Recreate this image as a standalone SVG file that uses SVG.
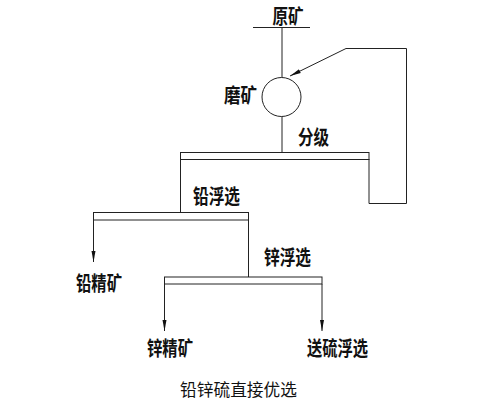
<svg xmlns="http://www.w3.org/2000/svg" width="499" height="405" viewBox="0 0 499 405">
<defs>
<style>
.ln{stroke:#222;stroke-width:1;fill:none}
.lbl{font-family:"Noto Sans CJK SC","Liberation Sans",sans-serif;font-size:20px;font-weight:bold;fill:#111}
.cap{font-family:"Noto Sans CJK SC","Liberation Serif",serif;font-size:16.5px;fill:#111}
</style>
<marker id="ah" markerWidth="12" markerHeight="6" refX="11" refY="3" orient="auto" markerUnits="userSpaceOnUse">
<path d="M0,1 L11,3 L0,5 Z" fill="#111"/>
</marker>
</defs>
<rect width="499" height="405" fill="#fff"/>
<g id="connectors">
<line class="ln" x1="253" y1="27.5" x2="310" y2="27.5"/>
<line class="ln" x1="282" y1="27.5" x2="282" y2="77.5"/>
<line class="ln" x1="282" y1="116.5" x2="282" y2="152"/>
<polyline class="ln" points="369,159 369,203.5 406.5,203.5 406.5,48.5 346,48.5"/>
<line class="ln" x1="346" y1="48.5" x2="290" y2="76" marker-end="url(#ah)"/>
<line class="ln" x1="180.5" y1="159" x2="180.5" y2="212"/>
<line class="ln" x1="93.5" y1="220" x2="93.5" y2="262" marker-end="url(#ah)"/>
<line class="ln" x1="248.5" y1="220" x2="248.5" y2="277"/>
<line class="ln" x1="164.5" y1="284" x2="164.5" y2="331" marker-end="url(#ah)"/>
<line class="ln" x1="322" y1="284" x2="322" y2="331" marker-end="url(#ah)"/>
</g>
<g id="raw"><text class="lbl" x="272.5" y="24" textLength="31" lengthAdjust="spacingAndGlyphs">原矿</text></g>
<g id="grinding">
<circle class="ln" cx="281.5" cy="97" r="19.5"/>
<text class="lbl" x="224" y="103" textLength="33" lengthAdjust="spacingAndGlyphs">磨矿</text>
</g>
<g id="classify">
<rect class="ln" x="180.5" y="152.5" width="188.5" height="7"/>
<text class="lbl" x="298" y="145" textLength="31" lengthAdjust="spacingAndGlyphs">分级</text>
</g>
<g id="pb-float">
<rect class="ln" x="93.5" y="212.5" width="155" height="7.5"/>
<text class="lbl" x="193" y="204" textLength="47" lengthAdjust="spacingAndGlyphs">铅浮选</text>
</g>
<g id="pb-conc"><text class="lbl" x="76" y="291" textLength="46" lengthAdjust="spacingAndGlyphs">铅精矿</text></g>
<g id="zn-float">
<rect class="ln" x="164.5" y="277" width="157.5" height="7"/>
<text class="lbl" x="264" y="265" textLength="47" lengthAdjust="spacingAndGlyphs">锌浮选</text>
</g>
<g id="zn-conc"><text class="lbl" x="147" y="356" textLength="46" lengthAdjust="spacingAndGlyphs">锌精矿</text></g>
<g id="s-float"><text class="lbl" x="307" y="356" textLength="61" lengthAdjust="spacingAndGlyphs">送硫浮选</text></g>
<g id="caption"><text class="cap" x="180" y="396" textLength="117" lengthAdjust="spacingAndGlyphs">铅锌硫直接优选</text></g>
</svg>
